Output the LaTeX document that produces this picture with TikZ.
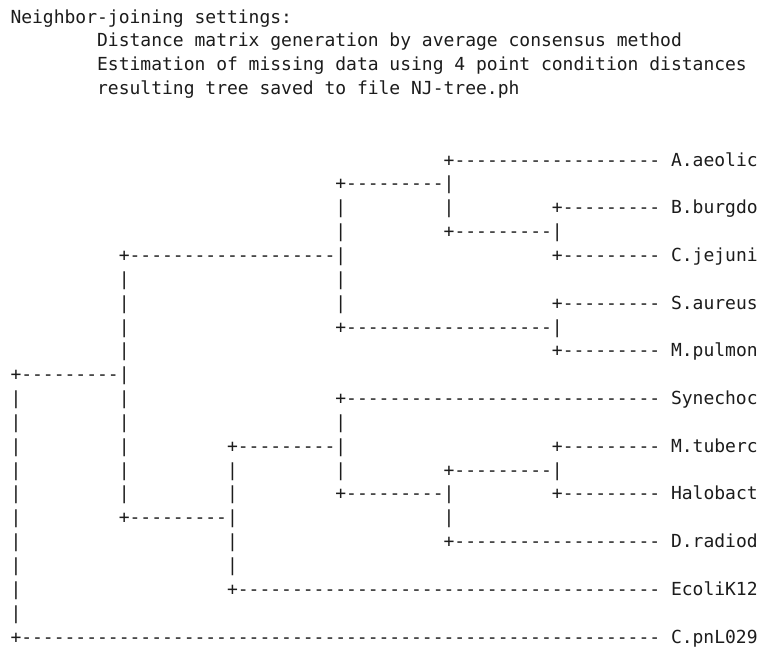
\documentclass[tikz,border=0pt]{standalone}
\usepackage{fontspec}
\setmonofont{DejaVu Sans Mono}
\definecolor{njink}{RGB}{28, 28, 28}
\usepackage{tikz}
\newcommand{\njgap}[1]{\hspace*{#1\fontcharwd\font`\-}}

\begin{document}
\begin{tikzpicture}[
    x=8.1225pt, y=-17.885pt,
    ascii/.style={anchor=base west, inner sep=0pt, outer sep=0pt, text=njink,
                  font=\ttfamily\fontsize{13.49pt}{17.9pt}\selectfont}
  ]
    \fill[white] (-0.97,-0.965) rectangle (69.76,26.25);
    \useasboundingbox (-0.97,-0.965) rectangle (69.76,26.25);

    \node[ascii] (title) at (0,0) {Neighbor-joining settings:};
    \node[ascii] (dist)  at (8,1) {Distance matrix generation by average consensus method};
    \node[ascii] (est)   at (8,2) {Estimation of missing data using 4 point condition distances};
    \node[ascii] (saved) at (8,3) {resulting tree saved to file NJ-tree.ph};

    \node[ascii] (aeolic) at (40,6)  {+------------------- A.aeolic};
    \node[ascii] (j7)     at (30,7)  {+---------|};
    \node[ascii] (burgdo) at (30,8)  {|\njgap{9}|\njgap{9}+--------- B.burgdo};
    \node[ascii] (j9)     at (30,9)  {|\njgap{9}+---------|};
    \node[ascii] (jejuni) at (10,10) {+-------------------|\njgap{19}+--------- C.jejuni};
    \node[ascii] (j11)    at (10,11) {|\njgap{19}|};
    \node[ascii] (aureus) at (10,12) {|\njgap{19}|\njgap{19}+--------- S.aureus};
    \node[ascii] (j13)    at (10,13) {|\njgap{19}+-------------------|};
    \node[ascii] (pulmon) at (10,14) {|\njgap{39}+--------- M.pulmon};
    \node[ascii] (j15)    at (0,15)  {+---------|};
    \node[ascii] (synech) at (0,16)  {|\njgap{9}|\njgap{19}+----------------------------- Synechoc};
    \node[ascii] (j17)    at (0,17)  {|\njgap{9}|\njgap{19}|};
    \node[ascii] (tuberc) at (0,18)  {|\njgap{9}|\njgap{9}+---------|\njgap{19}+--------- M.tuberc};
    \node[ascii] (j19)    at (0,19)  {|\njgap{9}|\njgap{9}|\njgap{9}|\njgap{9}+---------|};
    \node[ascii] (halo)   at (0,20)  {|\njgap{9}|\njgap{9}|\njgap{9}+---------|\njgap{9}+--------- Halobact};
    \node[ascii] (j21)    at (0,21)  {|\njgap{9}+---------|\njgap{19}|};
    \node[ascii] (radiod) at (0,22)  {|\njgap{19}|\njgap{19}+------------------- D.radiod};
    \node[ascii] (j23)    at (0,23)  {|\njgap{19}|};
    \node[ascii] (ecoli)  at (0,24)  {|\njgap{19}+--------------------------------------- EcoliK12};
    \node[ascii] (j25)    at (0,25)  {|};
    \node[ascii] (pnl)    at (0,26)  {+----------------------------------------------------------- C.pnL029};
\end{tikzpicture}
\end{document}
